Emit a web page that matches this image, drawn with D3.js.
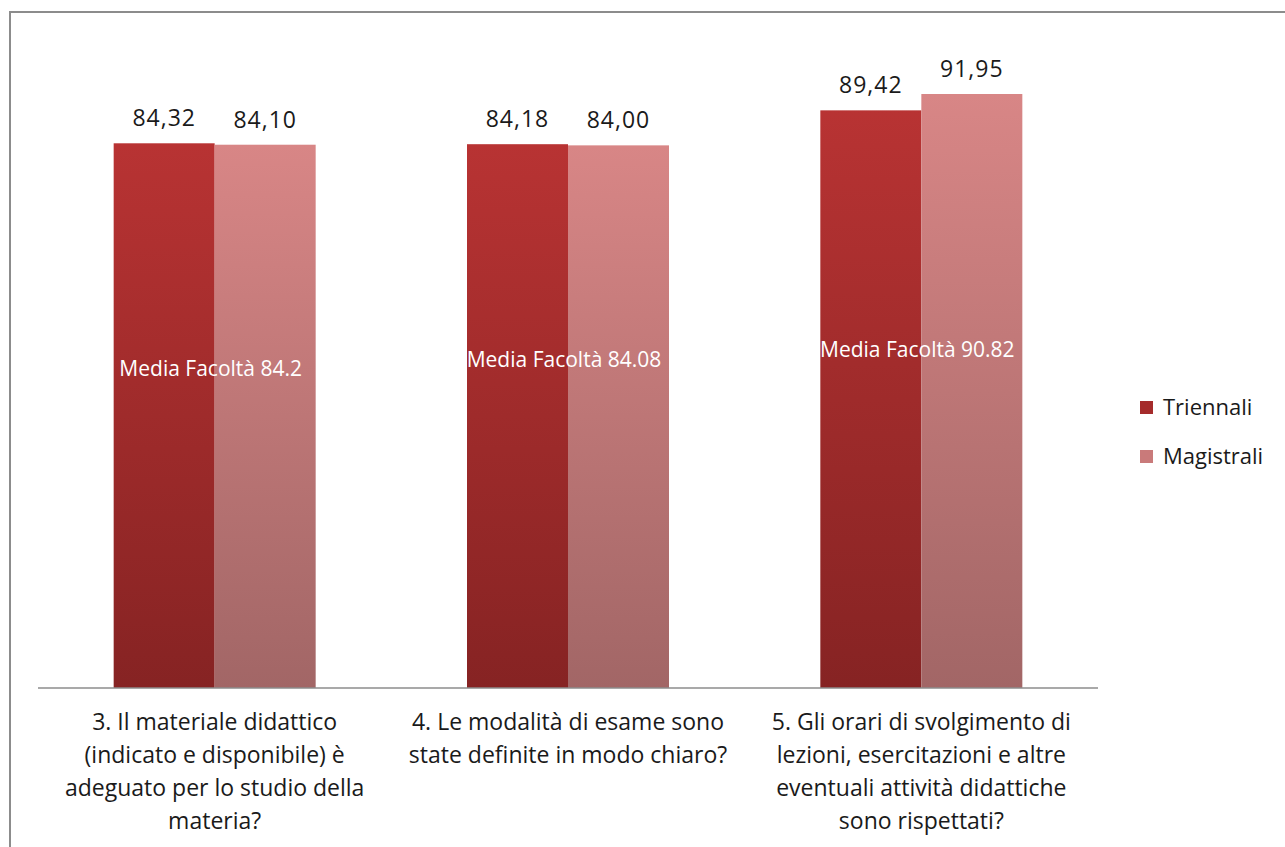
<!DOCTYPE html>
<html>
<head>
<meta charset="utf-8">
<script src="https://cdn.jsdelivr.net/npm/d3@7"></script>
<style>
body { margin: 0; background: white; }
svg { display: block; font-family: "Open Sans", sans-serif; }
</style>
</head>
<body>
<div id="chart"></div>
<script>
let w = 1285;
let h = 847;

// data
let categories = ["q3", "q4", "q5"];
let categoryLines = [
	["3. Il materiale didattico", "(indicato e disponibile) è", "adeguato per lo studio della", "materia?"],
	["4. Le modalità di esame sono", "state definite in modo chiaro?"],
	["5. Gli orari di svolgimento di", "lezioni, esercitazioni e altre", "eventuali attività didattiche", "sono rispettati?"]
];
let seriesNames = ["Triennali", "Magistrali"];
let triennali = [84.32, 84.18, 89.42];
let magistrali = [84.10, 84.00, 91.95];
let mediaFacolta = ["84.2", "84.08", "90.82"];
// where the faculty average note sits, in value units
let mediaAt = [49.5, 51, 52.5];

let viz = d3.select("#chart").append("svg")
	.attr("width", w)
	.attr("height", h);

let defs = viz.append("defs");
let grads = [
	["gradT", "#b83333", "#862323"],
	["gradM", "#d88686", "#a26666"]
];
grads.forEach(function(g){
	let lg = defs.append("linearGradient").attr("id", g[0])
		.attr("x1", 0).attr("y1", 0).attr("x2", 0).attr("y2", 1);
	lg.append("stop").attr("offset", "0%").attr("stop-color", g[1]);
	lg.append("stop").attr("offset", "100%").attr("stop-color", g[2]);
});
let fills = ["url(#gradT)", "url(#gradM)"];
let legendFills = ["#a52b2b", "#c97a7a"];

// outer border
viz.append("rect")
	.attr("x", 10).attr("y", 12)
	.attr("width", w + 20).attr("height", h + 20)
	.attr("fill", "none")
	.attr("stroke", "#8c8c8c")
	.attr("stroke-width", 2);

let left = 38, right = 1098, baseY = 688;

let xScale = d3.scaleBand().domain(categories).range([left, right]).paddingInner(0).paddingOuter(0);
let xSub = d3.scaleBand().domain(seriesNames).range([0, 202]);
let yScale = d3.scaleLinear().domain([0, 100]).range([baseY, 42]);

let fmt = d3.formatLocale({decimal: ",", thousands: ".", grouping: [3], currency: ["", "€"]}).format(".2f");

let rows = categories.map(function(c, i){
	return {cat: c, values: [triennali[i], magistrali[i]]};
});

let groups = viz.append("g").selectAll("g.grp").data(rows).enter().append("g")
	.attr("class", "grp")
	.attr("transform", function(d){
		return "translate(" + (xScale(d.cat) + xScale.bandwidth() / 2 - 101) + ",0)";
	});

groups.selectAll("rect").data(function(d){
	return d.values.map(function(v, j){ return {name: seriesNames[j], v: v, j: j}; });
}).enter().append("rect")
	.attr("x", function(d){ return xSub(d.name); })
	.attr("y", function(d){ return yScale(d.v); })
	.attr("width", xSub.bandwidth())
	.attr("height", function(d){ return baseY - yScale(d.v); })
	.attr("fill", function(d){ return fills[d.j]; });

groups.selectAll("text.val").data(function(d){
	return d.values.map(function(v, j){ return {name: seriesNames[j], v: v}; });
}).enter().append("text")
	.attr("class", "val")
	.attr("x", function(d){ return xSub(d.name) + xSub.bandwidth() / 2; })
	.attr("y", function(d){ return yScale(d.v) - 17; })
	.attr("text-anchor", "middle")
	.attr("font-size", 23)
	.attr("letter-spacing", 1)
	.attr("fill", "#1a1a1a")
	.text(function(d){ return fmt(d.v); });

// faculty average notes
viz.append("g").selectAll("text").data(categories).enter().append("text")
	.attr("x", function(d){ return xScale(d) + xScale.bandwidth() / 2 - 4; })
	.attr("y", function(d, i){ return yScale(mediaAt[i]) + 8; })
	.attr("text-anchor", "middle")
	.attr("font-size", 21)
	.attr("fill", "white")
	.text(function(d, i){ return "Media Facoltà " + mediaFacolta[i]; });

// axis line
viz.append("line")
	.attr("x1", left).attr("x2", right)
	.attr("y1", baseY).attr("y2", baseY)
	.attr("stroke", "#8c8c8c").attr("stroke-width", 1.5);

// category labels
let catText = viz.append("g").selectAll("text").data(categories).enter().append("text")
	.attr("text-anchor", "middle")
	.attr("font-size", 23)
	.attr("fill", "#1a1a1a");
catText.each(function(d, i){
	let t = d3.select(this);
	let cx = xScale(d) + xScale.bandwidth() / 2;
	categoryLines[i].forEach(function(line, k){
		t.append("tspan").attr("x", cx).attr("y", 730 + k * 33).text(line);
	});
});

// legend
let legend = viz.append("g").selectAll("g").data(seriesNames).enter().append("g")
	.attr("transform", function(d, i){ return "translate(1140," + (401 + i * 49) + ")"; });
legend.append("rect")
	.attr("width", 13).attr("height", 13)
	.attr("fill", function(d, i){ return legendFills[i]; });
legend.append("text")
	.attr("x", 23).attr("y", 14)
	.attr("font-size", 22)
	.attr("fill", "#1a1a1a")
	.text(function(d){ return d; });
</script>
</body>
</html>
